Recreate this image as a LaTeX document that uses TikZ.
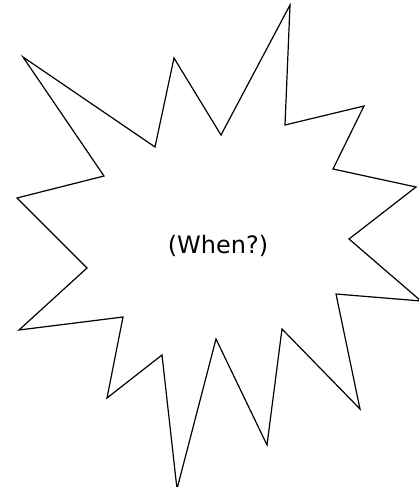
\documentclass[tikz,border=0pt]{standalone}
\usepackage{fontspec}
\setmainfont{DejaVu Sans}
\usepackage{tikz}

\begin{document}
\begin{tikzpicture}[x=1pt, y=-1pt]
  \useasboundingbox (0,0) rectangle (419,487);
  \clip (0,0) rectangle (419,487);
  \draw[line width=1.2pt, line join=miter, fill=white]
    (23,57) -- (155,147) -- (174,58) -- (221,135) -- (290,5) -- (285,125)
    -- (364,106) -- (333,169) -- (416,187) -- (349,239) -- (421,301)
    -- (336,294) -- (360,409) -- (282,329) -- (267,445) -- (216,339)
    -- (177,489) -- (162,355) -- (107,398) -- (123,317) -- (19,330)
    -- (87,268) -- (17,198) -- (104,176) -- cycle;
  \node[font=\fontsize{24}{28}\selectfont] (when) at (218,246) {(When?)};
\end{tikzpicture}
\end{document}
